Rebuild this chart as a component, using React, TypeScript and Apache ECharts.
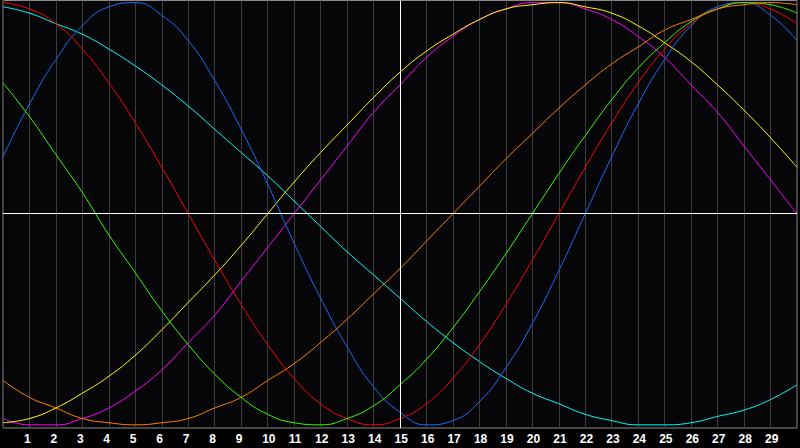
import React, { useEffect, useRef } from 'react';
import * as echarts from 'echarts';

const days = [0, 1, 2, 3, 4, 5, 6, 7, 8, 9, 10, 11, 12, 13, 14, 15, 16, 17, 18, 19, 20, 21, 22, 23, 24, 25, 26, 27, 28, 29, 30];

const blue = [0.27, 0.52, 0.73, 0.89, 0.98, 1.0, 0.94, 0.82, 0.63, 0.4, 0.14, -0.14, -0.4, -0.63, -0.82, -0.94, -1.0, -0.98, -0.89, -0.73, -0.52, -0.27, 0.0, 0.27, 0.52, 0.73, 0.89, 0.98, 1.0, 0.94, 0.82];
const red = [1.0, 0.97, 0.9, 0.78, 0.62, 0.43, 0.22, 0.0, -0.22, -0.43, -0.62, -0.78, -0.9, -0.97, -1.0, -0.97, -0.9, -0.78, -0.62, -0.43, -0.22, 0.0, 0.22, 0.43, 0.62, 0.78, 0.9, 0.97, 1.0, 0.97, 0.9];
const green = [0.62, 0.46, 0.28, 0.1, -0.1, -0.28, -0.46, -0.62, -0.76, -0.87, -0.95, -0.99, -1.0, -0.97, -0.91, -0.81, -0.69, -0.54, -0.37, -0.19, 0.0, 0.19, 0.37, 0.54, 0.69, 0.81, 0.91, 0.97, 1.0, 0.99, 0.95];
const magenta = [-0.97, -1.0, -1.0, -0.97, -0.92, -0.84, -0.74, -0.61, -0.48, -0.32, -0.16, 0.0, 0.16, 0.32, 0.48, 0.61, 0.74, 0.84, 0.92, 0.97, 1.0, 1.0, 0.97, 0.92, 0.84, 0.74, 0.61, 0.48, 0.32, 0.16, 0.0];
const yellow = [-0.99, -0.97, -0.92, -0.85, -0.77, -0.67, -0.55, -0.42, -0.29, -0.15, 0.0, 0.15, 0.29, 0.42, 0.55, 0.67, 0.77, 0.85, 0.92, 0.97, 0.99, 1.0, 0.98, 0.95, 0.89, 0.81, 0.72, 0.61, 0.49, 0.36, 0.22];
const orange = [-0.79, -0.87, -0.92, -0.97, -0.99, -1.0, -0.99, -0.97, -0.92, -0.87, -0.79, -0.71, -0.61, -0.5, -0.38, -0.26, -0.13, 0.0, 0.13, 0.26, 0.38, 0.5, 0.61, 0.71, 0.79, 0.87, 0.92, 0.97, 0.99, 1.0, 0.99];
const cyan = [0.98, 0.95, 0.9, 0.85, 0.78, 0.7, 0.61, 0.51, 0.4, 0.29, 0.18, 0.06, -0.06, -0.18, -0.29, -0.4, -0.51, -0.61, -0.7, -0.78, -0.85, -0.9, -0.95, -0.98, -1.0, -1.0, -0.99, -0.96, -0.93, -0.88, -0.81];

const tickLabels = ['1', '2', '3', '4', '5', '6', '7', '8', '9', '10', '11', '12', '13', '14', '15', '16', '17', '18', '19', '20', '21', '22', '23', '24', '25', '26', '27', '28', '29'];
const todayDay = 15;

const curves = [
  { name: 'cyan', color: '#00ffff', values: cyan },
  { name: 'magenta', color: '#ff00ff', values: magenta },
  { name: 'yellow', color: '#ffff00', values: yellow },
  { name: 'blue', color: '#1a6cff', values: blue },
  { name: 'red', color: '#ff0000', values: red },
  { name: 'green', color: '#33ff00', values: green },
  { name: 'orange', color: '#ff8000', values: orange },
];

export default function App() {
  const ref = useRef<HTMLDivElement>(null);
  useEffect(() => {
    document.body.style.margin = '0';
    document.body.style.background = '#000';
    const chart = echarts.init(ref.current as HTMLDivElement, null, { renderer: 'svg' });
    const series: any[] = curves.map((c) => ({
      name: c.name,
      type: 'line',
      data: days.map((d, i) => [d, c.values[i]]),
      smooth: true,
      showSymbol: false,
      symbol: 'none',
      lineStyle: { color: c.color, width: 1 },
      itemStyle: { color: c.color },
      z: 3,
    }));
    series.unshift({
      name: 'ref',
      type: 'line',
      data: [],
      z: 2,
      markLine: {
        silent: true,
        symbol: ['none', 'none'],
        label: { show: false },
        lineStyle: { color: '#ffffff', type: 'solid', width: 1 },
        data: [{ yAxis: 0 }, { xAxis: todayDay }],
      },
    });
    chart.setOption({
      animation: false,
      backgroundColor: '#000000',
      grid: {
        left: 0.5,
        top: 0.5,
        width: 798.5,
        height: 427.5,
        show: true,
        backgroundColor: '#060608',
        borderColor: '#8a8a8a',
        borderWidth: 1,
      },
      xAxis: {
        type: 'value',
        min: 0,
        max: 30,
        interval: 1,
        axisLine: { show: true, lineStyle: { color: '#8a8a8a', width: 1 } },
        axisTick: { show: false },
        splitLine: { show: true, lineStyle: { color: '#3c3c3c', width: 1 } },
        axisLabel: {
          margin: 5,
          formatter: (v: number) => {
            const t = tickLabels.find((s) => Number(s) === v);
            return t ? '{a|' + t + '}' : '';
          },
          rich: {
            a: {
              width: 11,
              align: 'left',
              color: '#ffffff',
              fontSize: 12,
              fontWeight: 'bold',
              fontFamily: 'Liberation Sans',
            },
          },
        },
      },
      yAxis: {
        type: 'value',
        min: -1.015,
        max: 1.01,
        axisLine: { show: false },
        axisTick: { show: false },
        axisLabel: { show: false },
        splitLine: { show: false },
      },
      series,
    });
    return () => chart.dispose();
  }, []);
  return <div ref={ref} style={{ width: 800, height: 448 }} />;
}
